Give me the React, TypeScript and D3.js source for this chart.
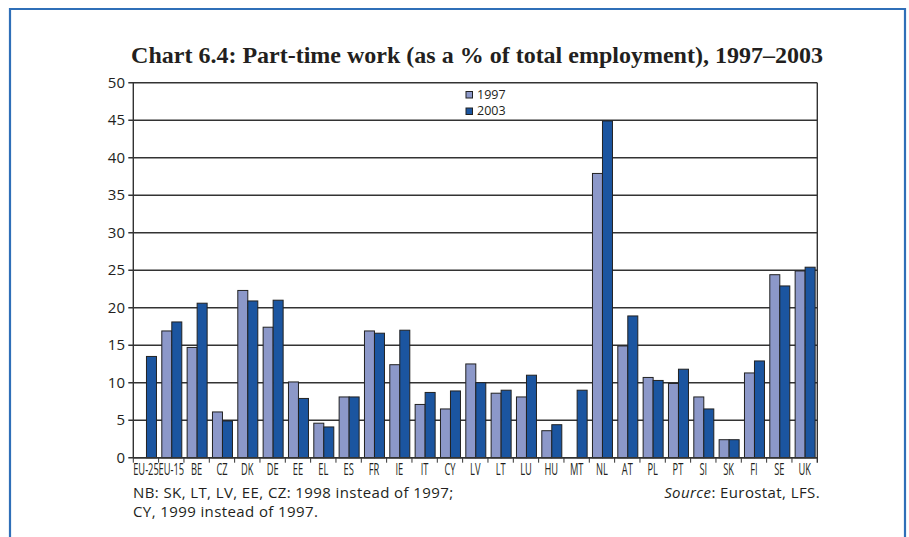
import React from 'react';
import * as d3 from 'd3';

// chart values
const countries = ['EU-25', 'EU-15', 'BE', 'CZ', 'DK', 'DE', 'EE', 'EL', 'ES', 'FR', 'IE', 'IT', 'CY', 'LV',
  'LT', 'LU', 'HU', 'MT', 'NL', 'AT', 'PL', 'PT', 'SI', 'SK', 'FI', 'SE', 'UK'];
const years = ['1997', '2003'];
const values1997 = [null, 16.9, 14.7, 6.1, 22.3, 17.4, 10.1, 4.6, 8.1, 16.9, 12.4, 7.1, 6.5, 12.5,
  8.6, 8.1, 3.6, null, 37.9, 14.9, 10.7, 9.9, 8.1, 2.4, 11.3, 24.4, 24.9];
const values2003 = [13.5, 18.1, 20.6, 4.9, 20.9, 21.0, 7.9, 4.1, 8.1, 16.6, 17.0, 8.7, 8.9, 10.0,
  9.0, 11.0, 4.4, 9.0, 44.9, 18.9, 10.3, 11.8, 6.5, 2.4, 12.9, 22.9, 25.4];
const yTicks = [0, 5, 10, 15, 20, 25, 30, 35, 40, 45, 50];

const colors = { '1997': '#8c98c9', '2003': '#1b55a0' };
const sans = '"Open Sans", "DejaVu Sans", sans-serif';

const App = () => {
  const W = 909, H = 537;
  const left = 133.3, right = 817.3, top = 82.7, bottom = 457.7;

  const x = d3.scaleBand<string>().domain(countries).range([left, right]);
  const inner = d3.scaleBand<string>().domain(years).range([0, 20]);
  const y = d3.scaleLinear().domain([0, 50]).range([bottom, top]);
  const off = (x.bandwidth() - 20) / 2 + 0.5;

  const series = [
    { year: '1997', vals: values1997 },
    { year: '2003', vals: values2003 },
  ];

  return (
    <svg width={W} height={H} style={{ position: 'absolute', left: 0, top: 0, background: '#fff' }}>
      {/* blue frame */}
      <path d={`M10,${H} V9 H905 V${H}`} fill="none" stroke="#2f6fb8" strokeWidth={2.2} />

      <text x={477} y={63} textAnchor="middle" fontFamily='"Liberation Serif", "Times New Roman", serif'
        fontWeight="bold" fontSize={24} fill="#231f20">
        Chart 6.4: Part-time work (as a % of total employment), 1997–2003
      </text>

      {/* gridlines + y axis */}
      {yTicks.map(t => (
        <g key={t}>
          <line x1={left - 5} x2={right} y1={y(t)} y2={y(t)} stroke="#333" strokeWidth={1.4} />
          <text x={125} y={y(t) + 5} textAnchor="end" fontFamily={sans} fontSize={15} fill="#231f20">{t}</text>
        </g>
      ))}
      <line x1={left} x2={left} y1={top} y2={bottom} stroke="#333" strokeWidth={1.4} />
      <line x1={right} x2={right} y1={top} y2={bottom + 5} stroke="#333" strokeWidth={1.4} />

      {/* bars */}
      {series.map(s => (
        <g key={s.year}>
          {s.vals.map((v, i) => v == null ? null : (
            <rect key={i}
              x={(x(countries[i]) as number) + off + (inner(s.year) as number)}
              y={y(v)}
              width={inner.bandwidth()}
              height={y(0) - y(v)}
              fill={colors[s.year]} stroke="#222" strokeWidth={1} />
          ))}
        </g>
      ))}

      {/* x axis */}
      <line x1={left} x2={right} y1={bottom} y2={bottom} stroke="#333" strokeWidth={1.4} />
      {countries.map(c => (
        <g key={c}>
          <line x1={x(c) as number} x2={x(c) as number} y1={bottom} y2={bottom + 5} stroke="#333" strokeWidth={1} />
          <text transform={`translate(${(x(c) as number) + x.bandwidth() / 2}, ${bottom + 17}) scale(0.6, 1)`}
            textAnchor="middle" fontFamily={sans} fontSize={15.5} fill="#231f20">{c}</text>
        </g>
      ))}

      {/* legend */}
      {years.map((yr, i) => (
        <g key={yr}>
          <rect x={466} y={91.5 + i * 16.5} width={6.5} height={6.5}
            fill={colors[yr]} stroke="#222" strokeWidth={1} />
          <text x={477} y={98.5 + i * 16.5} fontFamily={sans} fontSize={12.5} fill="#231f20">{yr}</text>
        </g>
      ))}

      {/* notes */}
      <text x={133} y={498} fontFamily={sans} fontSize={15} letterSpacing={0.4} fill="#231f20">
        NB: SK, LT, LV, EE, CZ: 1998 instead of 1997;
      </text>
      <text x={133} y={517} fontFamily={sans} fontSize={15} letterSpacing={0.4} fill="#231f20">
        CY, 1999 instead of 1997.
      </text>
      <text x={820} y={498} textAnchor="end" fontFamily={sans} fontSize={15} letterSpacing={0.4} fill="#231f20">
        <tspan fontStyle="italic">Source</tspan>: Eurostat, LFS.
      </text>
    </svg>
  );
};

export default App;
